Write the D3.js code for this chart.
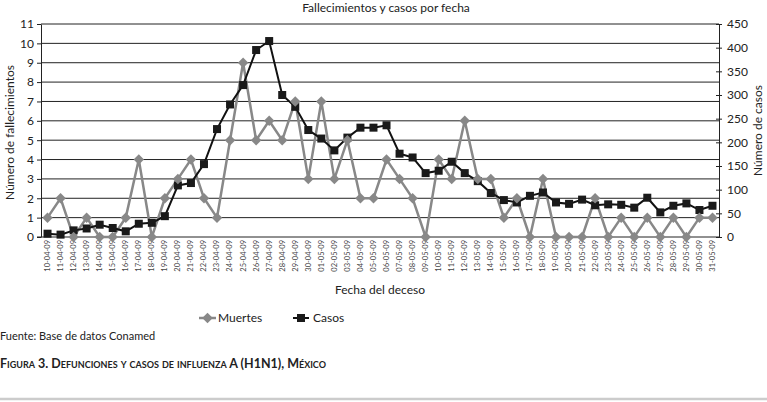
<!DOCTYPE html>
<html lang="es">
<head>
  <meta charset="UTF-8">
  <title>Fallecimientos y casos por fecha</title>
  <script src="https://d3js.org/d3.v7.min.js"></script>
  <style>
    body {
      margin: 0;
      background: #ffffff;
      font-family: Lato, "Open Sans", sans-serif;
    }
    svg { display: block; }
    .grid line { stroke: #222; stroke-width: 1; }
    .axis path, .axis line { stroke: #222; }
  </style>
</head>
<body>
  <div id="chart"></div>

  <script>
    const fechas = [
      "10-04-09","11-04-09","12-04-09","13-04-09","14-04-09","15-04-09","16-04-09","17-04-09",
      "18-04-09","19-04-09","20-04-09","21-04-09","22-04-09","23-04-09","24-04-09","25-04-09",
      "26-04-09","27-04-09","28-04-09","29-04-09","30-04-09","01-05-09","02-05-09","03-05-09",
      "04-05-09","05-05-09","06-05-09","07-05-09","08-05-09","09-05-09","10-05-09","11-05-09",
      "12-05-09","13-05-09","14-05-09","15-05-09","16-05-09","17-05-09","18-05-09","19-05-09",
      "20-05-09","21-05-09","22-05-09","23-05-09","24-05-09","25-05-09","26-05-09","27-05-09",
      "28-05-09","29-05-09","30-05-09","31-05-09"
    ];
    const muertes = [1,2,0,1,0,0,1,4,0,2,3,4,2,1,5,9,5,6,5,7,3,7,3,5,2,2,4,3,2,0,
                     4,3,6,3,3,1,2,0,3,0,0,0,2,0,1,0,1,0,1,0,1,1];
    const casos = [7,5,14,18,26,19,12,28,30,44,109,114,154,228,280,321,395,414,300,275,
                   226,208,183,210,231,231,236,176,168,135,140,159,135,118,93,78,73,87,94,73,
                   70,79,67,69,68,62,83,52,66,71,57,66];
    const ticksMuertes = d3.range(0, 12);
    const ticksCasos = d3.range(0, 451, 50);

    const width = 767, height = 402;
    const mLeft = 41, mRight = 719, mTop = 24, mBottom = 237;

    const svg = d3.select("#chart").append("svg")
      .attr("width", width)
      .attr("height", height);

    const x = d3.scaleBand().domain(fechas).range([mLeft, mRight]);
    const yL = d3.scaleLinear().domain([0, 11]).range([mBottom, mTop]);
    const yR = d3.scaleLinear().domain([0, 450]).range([mBottom, mTop]);
    const cx = d => x(d) + x.bandwidth() / 2;

    // title
    svg.append("text")
      .attr("x", 386).attr("y", 12)
      .attr("text-anchor", "middle")
      .attr("font-size", 12)
      .attr("fill", "#222")
      .text("Fallecimientos y casos por fecha");

    // horizontal grid on left scale
    svg.append("g").attr("class", "grid")
      .selectAll("line")
      .data(ticksMuertes.filter(d => d > 0))
      .enter().append("line")
      .attr("x1", mLeft).attr("x2", mRight)
      .attr("y1", d => yL(d)).attr("y2", d => yL(d));

    // left axis
    const axL = svg.append("g").attr("class", "axis")
      .attr("transform", `translate(${mLeft},0)`)
      .call(d3.axisLeft(yL).tickValues(ticksMuertes).tickSize(4).tickSizeOuter(0));
    axL.selectAll("text").attr("font-size", 12).attr("fill", "#222").attr("font-family", "Lato");

    // right axis
    const axR = svg.append("g").attr("class", "axis")
      .attr("transform", `translate(${mRight},0)`)
      .call(d3.axisRight(yR).tickValues(ticksCasos).tickSize(3).tickSizeOuter(0).tickPadding(5));
    axR.selectAll(".tick line").attr("x1", -3);
    axR.selectAll("text").attr("font-size", 12).attr("fill", "#222").attr("font-family", "Lato");

    // bottom axis
    const axB = svg.append("g").attr("class", "axis")
      .attr("transform", `translate(0,${mBottom})`)
      .call(d3.axisBottom(x).tickSize(0).tickSizeOuter(0).tickPadding(3));
    axB.select(".domain").attr("d", `M${mLeft - 4},0H${mRight}`);
    axB.selectAll("text")
      .attr("font-size", 7.5)
      .attr("fill", "#444")
      .attr("font-family", "Lato")
      .attr("text-anchor", "end")
      .attr("dy", "0.32em")
      .attr("transform", "translate(0,3) rotate(-90)")
      .attr("x", 0).attr("y", 0);

    // axis titles
    svg.append("text")
      .attr("transform", `translate(14,${(mTop + mBottom) / 2 + 2}) rotate(-90)`)
      .attr("text-anchor", "middle")
      .attr("font-size", 12).attr("fill", "#222")
      .text("Número de fallecimientos");
    svg.append("text")
      .attr("transform", `translate(762,${(mTop + mBottom) / 2}) rotate(-90)`)
      .attr("text-anchor", "middle")
      .attr("font-size", 12).attr("fill", "#222")
      .text("Número de casos");
    svg.append("text")
      .attr("x", 380).attr("y", 294)
      .attr("text-anchor", "middle")
      .attr("font-size", 12).attr("fill", "#222")
      .text("Fecha del deceso");

    // Muertes series
    const lineM = d3.line().x((d, i) => cx(fechas[i])).y(d => yL(d));
    svg.append("path")
      .datum(muertes)
      .attr("d", lineM)
      .attr("fill", "none")
      .attr("stroke", "#888")
      .attr("stroke-width", 2.5);

    // Casos series
    const lineC = d3.line().x((d, i) => cx(fechas[i])).y(d => yR(d));
    svg.append("path")
      .datum(casos)
      .attr("d", lineC)
      .attr("fill", "none")
      .attr("stroke", "#111")
      .attr("stroke-width", 2);

    svg.append("g").selectAll("rect")
      .data(casos)
      .enter().append("rect")
      .attr("x", (d, i) => cx(fechas[i]) - 4)
      .attr("y", d => yR(d) - 4)
      .attr("width", 8).attr("height", 8)
      .attr("fill", "#1a1a1a");

    const diamond = d3.symbol().type(d3.symbolDiamond2).size(70);
    svg.append("g").selectAll("path")
      .data(muertes)
      .enter().append("path")
      .attr("d", diamond)
      .attr("transform", (d, i) => `translate(${cx(fechas[i])},${yL(d)})`)
      .attr("fill", "#888");

    // legend
    const leg = svg.append("g").attr("font-size", 12).attr("fill", "#222");
    leg.append("line").attr("x1", 199).attr("x2", 216).attr("y1", 318).attr("y2", 318)
      .attr("stroke", "#888").attr("stroke-width", 2.5);
    leg.append("path").attr("d", diamond).attr("transform", "translate(207.5,318)").attr("fill", "#888");
    leg.append("text").attr("x", 218).attr("y", 322).text("Muertes");
    leg.append("line").attr("x1", 293).attr("x2", 309).attr("y1", 318).attr("y2", 318)
      .attr("stroke", "#111").attr("stroke-width", 2);
    leg.append("rect").attr("x", 297).attr("y", 314).attr("width", 8).attr("height", 8).attr("fill", "#1a1a1a");
    leg.append("text").attr("x", 313).attr("y", 322).text("Casos");

    // footer
    svg.append("text")
      .attr("x", 0).attr("y", 340)
      .attr("font-size", 11).attr("fill", "#222")
      .text("Fuente: Base de datos Conamed");
    svg.append("text")
      .attr("x", 0).attr("y", 368)
      .attr("font-size", 12.5).attr("font-weight", "bold")
      .attr("fill", "#222")
      .style("font-variant", "small-caps")
      .text("Figura 3. Defunciones y casos de influenza A (H1N1), México");
    svg.append("line")
      .attr("x1", 0).attr("x2", width).attr("y1", 399).attr("y2", 399)
      .attr("stroke", "#ccc").attr("stroke-width", 2.5);
  </script>
</body>
</html>
